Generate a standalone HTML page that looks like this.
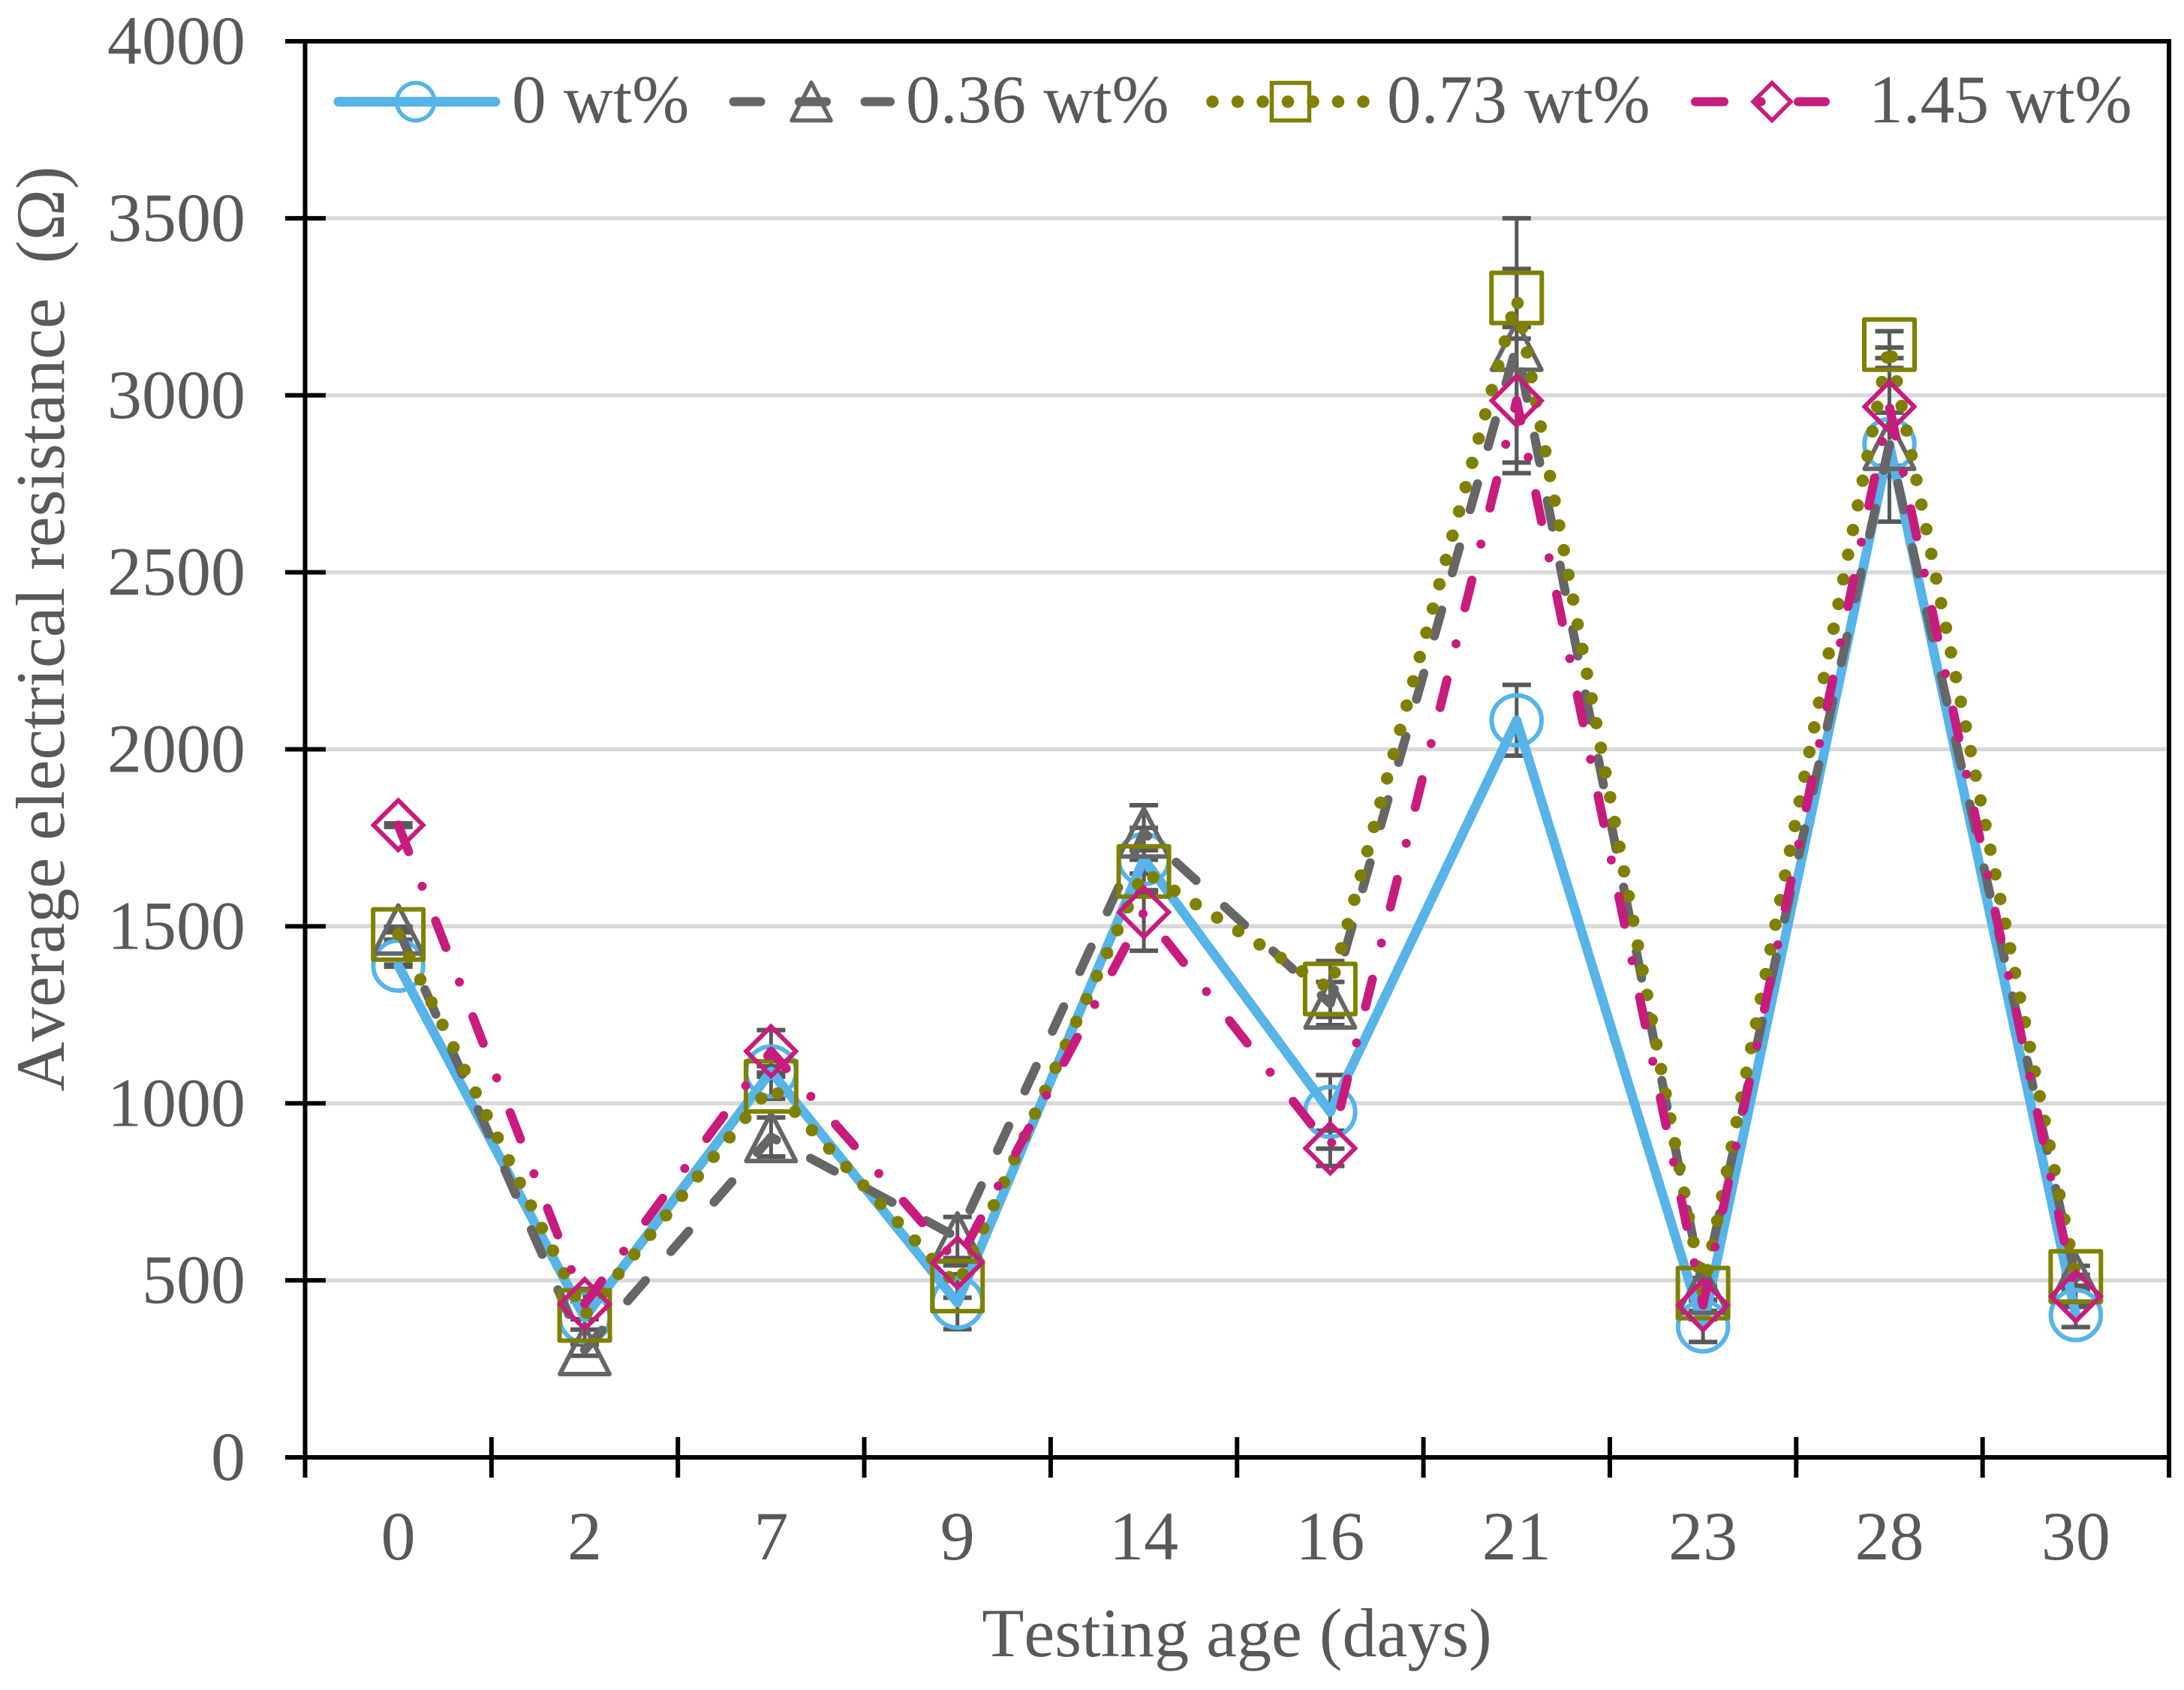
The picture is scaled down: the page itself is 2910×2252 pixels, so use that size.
<!DOCTYPE html>
<html>
<head>
<meta charset="utf-8">
<title>Average electrical resistance vs testing age</title>
<style>
html,body{margin:0;padding:0;background:#fff;}
svg{display:block;}
text{font-family:"Liberation Serif",serif;fill:#595959;font-kerning:none;}
</style>
</head>
<body>
<svg id="chart" xmlns="http://www.w3.org/2000/svg" width="2910" height="2252" viewBox="0 0 2910 2252">
  <rect x="0" y="0" width="2910" height="2252" fill="#ffffff"/>
  <g id="grid"></g>
  <g id="errors"></g>
  <g id="series"></g>
  <g id="axes"></g>
  <g id="labels"></g>
  <text transform="translate(85,838) rotate(-90)" text-anchor="middle" font-size="92" xml:space="preserve" style="white-space:pre">Average electrical resistance  (Ω)</text>
  <text x="1648" y="2207" text-anchor="middle" font-size="92">Testing age (days)</text>
  <g id="legend">
    <g>
      <line x1="451" y1="135.5" x2="660" y2="135.5" stroke="#56B4E9" stroke-width="13" stroke-linecap="round"/>
      <circle cx="553.7" cy="135.5" r="25" fill="none" stroke="#56B4E9" stroke-width="5.5"/>
      <text x="682" y="163" font-size="91.5">0 wt%</text>
    </g>
    <g>
      <line x1="977.5" y1="135.5" x2="1186" y2="135.5" stroke="#666666" stroke-width="12" stroke-linecap="round" stroke-dasharray="36 51.5"/>
      <polygon points="1081,110 1107,160.5 1055,160.5" fill="none" stroke="#666666" stroke-width="5.5" stroke-linejoin="round"/>
      <text x="1207" y="163" font-size="91.5">0.36 wt%</text>
    </g>
    <g>
      <line x1="1615.5" y1="135.5" x2="1817" y2="135.5" stroke="#808000" stroke-width="16.5" stroke-linecap="round" stroke-dasharray="0 33.5"/>
      <rect x="1694.5" y="110.5" width="50" height="50" fill="none" stroke="#808000" stroke-width="5.5"/>
      <text x="1848" y="163" font-size="91.5">0.73 wt%</text>
    </g>
    <g>
      <line x1="2259" y1="135.5" x2="2432" y2="135.5" stroke="#C71C7E" stroke-width="12" stroke-linecap="round" stroke-dasharray="38 49.5 0 49.5"/>
      <polygon points="2361,110.5 2386,135.5 2361,160.5 2336,135.5" fill="none" stroke="#C71C7E" stroke-width="5.5"/>
      <text x="2490" y="163" font-size="91.5">1.45 wt%</text>
    </g>
  </g>
</svg>
<script>
var categories = ["0","2","7","9","14","16","21","23","28","30"];
var yTicks = [0,500,1000,1500,2000,2500,3000,3500,4000];
var values0 = [1389,395,1090,437,1690,976,2082,370,2862,402];
var values036 = [1491,303,905,621,1765,1282,3140,476,2860,507];
var values073 = [1477,401,1048,484,1655,1323,3275,464,3143,511];
var values145 = [1786,433,1147,550,1540,873,2985,430,2968,455];
var errors0 = [3,72,15,75,88,104,100,44,89,34];
var errors036 = [8,16,55,58,77,61,360,30,217,34];
var errors073 = [15,40,35,33,60,79,82,20,38,5];
var errors145 = [5,43,60,8,109,50,175,40,167,30];

var NS = "http://www.w3.org/2000/svg";
var plotLeft = 406.5, plotRight = 2890, plotTop = 55, plotBottom = 1942, yMax = 4000;
var band = (plotRight - plotLeft) / categories.length;
function xAt(i){ return plotLeft + band * (i + 0.5); }
function yAt(v){ return plotBottom - (plotBottom - plotTop) * v / yMax; }
function mk(tag, parent, attrs){
  var el = document.createElementNS(NS, tag);
  for (var k in attrs) el.setAttribute(k, attrs[k]);
  parent.appendChild(el);
  return el;
}
var gGrid = document.getElementById("grid");
var gErr = document.getElementById("errors");
var gSeries = document.getElementById("series");
var gAxes = document.getElementById("axes");
var gLabels = document.getElementById("labels");

yTicks.forEach(function(t){
  if (t > 0 && t < yMax) {
    var gl = mk("line", gGrid, {x1: 434, x2: plotRight, y1: yAt(t), y2: yAt(t), stroke: "#D9D9D9", "stroke-width": 5.6});
    
    
  }
  var tk = mk("line", gAxes, {x1: 380, x2: 434, y1: yAt(t), y2: yAt(t), stroke: "#000", "stroke-width": 6});
  
  
  var lb = mk("text", gLabels, {x: 327, y: yAt(t) + 30, "text-anchor": "end", "font-size": 92});
  
  
  lb.textContent = String(t);
});

var axisPaths = [
  [plotLeft, plotTop, plotLeft, 1969],
  [plotRight, plotTop, plotRight, 1969],
  [380, plotTop, plotRight + 3, plotTop],
  [380, plotBottom, plotRight, plotBottom]
];
axisPaths.forEach(function(a){
  var ax = mk("line", gAxes, {x1: a[0], y1: a[1], x2: a[2], y2: a[3], stroke: "#000", "stroke-width": 6});
  
  
});

categories.forEach(function(c, i){
  if (i > 0) {
    var tk = mk("line", gAxes, {x1: plotLeft + band * i, x2: plotLeft + band * i, y1: 1915, y2: 1969, stroke: "#000", "stroke-width": 6});
    
    
  }
  var lb = mk("text", gLabels, {x: xAt(i), y: 2078, "text-anchor": "middle", "font-size": 92});
  
  
  lb.textContent = c;
});

function errorBars(vals, errs){
  vals.forEach(function(v, i){
    var x = xAt(i), hi = yAt(v + errs[i]), lo = yAt(v - errs[i]);
    var stem = mk("line", gErr, {x1: x, x2: x, y1: hi, y2: lo, stroke: "#595959", "stroke-width": 5});
    
    
    [hi, lo].forEach(function(y){
      var cap = mk("line", gErr, {x1: x - 19, x2: x + 19, y1: y, y2: y, stroke: "#595959", "stroke-width": 6});
      
      
    });
  });
}
errorBars(values0, errors0);
errorBars(values036, errors036);
errorBars(values073, errors073);
errorBars(values145, errors145);

function seriesLine(vals, color, width, dash){
  var pts = vals.map(function(v, i){ return xAt(i) + "," + yAt(v); }).join(" ");
  var attrs = {points: pts, fill: "none", stroke: color, "stroke-width": width, "stroke-linecap": "round", "stroke-linejoin": "round"};
  if (dash) attrs["stroke-dasharray"] = dash;
  var pl = mk("polyline", gSeries, attrs);
  
  
}
function marker(kind, x, y, color){
  var el, base = {fill: "none", stroke: color, "stroke-width": 6};
  if (kind === "circle") {
    base.cx = x; base.cy = y; base.r = 33.25;
    el = mk("circle", gSeries, base);
  } else if (kind === "square") {
    base.x = x - 33.5; base.y = y - 33.5; base.width = 67; base.height = 67;
    base["stroke-linejoin"] = "round";
    el = mk("rect", gSeries, base);
  } else if (kind === "triangle") {
    base.points = x + "," + (y - 32) + " " + (x + 33) + "," + (y + 32) + " " + (x - 33) + "," + (y + 32);
    base["stroke-linejoin"] = "round";
    el = mk("polygon", gSeries, base);
  } else {
    base.points = x + "," + (y - 33) + " " + (x + 33) + "," + y + " " + x + "," + (y + 33) + " " + (x - 33) + "," + y;
    el = mk("polygon", gSeries, base);
  }
  
  
}
function drawSeries(vals, color, width, dash, kind){
  seriesLine(vals, color, width, dash);
  vals.forEach(function(v, i){ marker(kind, xAt(i), yAt(v), color); });
}
drawSeries(values0, "#56B4E9", 12.7, null, "circle");
drawSeries(values036, "#666666", 12, "36 51.5", "triangle");
drawSeries(values073, "#808000", 16.5, "0 33.5", "square");
drawSeries(values145, "#C71C7E", 12, "38 49.5 0 49.5", "diamond");
</script>
</body>
</html>
